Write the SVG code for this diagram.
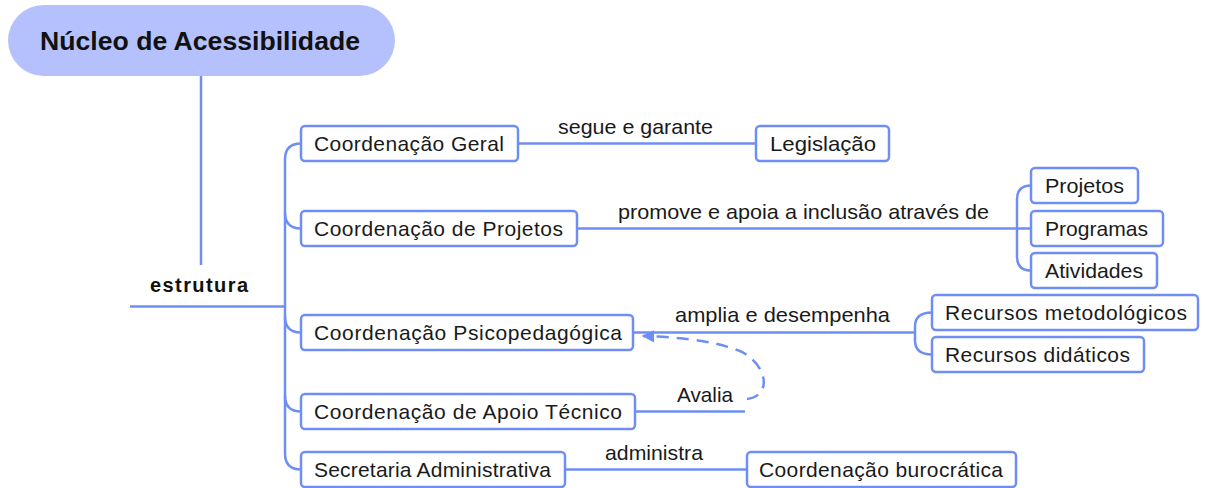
<svg xmlns="http://www.w3.org/2000/svg" width="1205" height="488" viewBox="0 0 1205 488">
<defs>
<style>
.box{fill:#ffffff;stroke:#6f8ef5;stroke-width:2.5}
.t{font-family:"Liberation Sans",Arial,sans-serif;font-size:21px;fill:#1a1a1a}
.l{font-family:"Liberation Sans",Arial,sans-serif;font-size:21px;fill:#1a1a1a}
.c{fill:none;stroke:#6f8ef5;stroke-width:2.5}
.d{fill:none;stroke:#6f8ef5;stroke-width:2.5;stroke-dasharray:12 8}
</style>
<marker id="arr" viewBox="0 0 10 10" refX="9" refY="5" markerWidth="5" markerHeight="5" orient="auto">
<path d="M0,0 L10,5 L0,10 z" fill="#6f8ef5"/>
</marker>
</defs>
<rect width="1205" height="488" fill="#ffffff"/>
<g id="connectors">
<path class="c" d="M201 76 L201 265"/>
<path class="c" d="M130 306.5 L285 306.5"/>
<path class="c" d="M301 143.5 Q285 143.5 285 159.5 L285 453.5 Q285 469.5 301 469.5"/>
<path class="c" d="M285 212.5 Q285 228.5 301 228.5"/>
<path class="c" d="M285 316.5 Q285 332.5 301 332.5"/>
<path class="c" d="M285 395.5 Q285 411.5 301 411.5"/>
<path class="c" d="M518 143.5 L756 143.5"/>
<path class="c" d="M577 228.5 L1017 228.5"/>
<path class="c" d="M1031 185.5 Q1017 185.5 1017 199.5 L1017 256.5 Q1017 270.5 1031 270.5"/>
<path class="c" d="M1017 228.5 L1031 228.5"/>
<path class="c" d="M633 332.5 L915 332.5"/>
<path class="c" d="M932 312.5 Q915 312.5 915 326.5 L915 340.5 Q915 354.5 932 354.5"/>
<path class="c" d="M635 411.5 L745 411.5"/>
<path class="c" d="M565 469.5 L747 469.5"/>
<path class="d" d="M747 399 C772 396 768 366 742 352 C715 340 675 337 643 336" marker-end="url(#arr)"/>
<text class="l" x="558" y="134" textLength="155" lengthAdjust="spacingAndGlyphs">segue e garante</text>
<text class="l" x="618" y="219" textLength="371" lengthAdjust="spacingAndGlyphs">promove e apoia a inclusão através de</text>
<text class="l" x="675" y="322" textLength="215" lengthAdjust="spacingAndGlyphs">amplia e desempenha</text>
<text class="l" x="677" y="402" textLength="56" lengthAdjust="spacingAndGlyphs">Avalia</text>
<text class="l" x="605" y="460" textLength="98" lengthAdjust="spacingAndGlyphs">administra</text>
</g>
<g id="root">
<rect x="8" y="5" width="387" height="71" rx="35.5" fill="#b4c1fc"/>
<text x="40" y="50" font-family="'Liberation Sans',Arial,sans-serif" font-size="26" font-weight="bold" fill="#111111" textLength="320" lengthAdjust="spacingAndGlyphs">Núcleo de Acessibilidade</text>
</g>
<g id="estrutura">
<text x="150" y="292" font-family="'Liberation Sans',Arial,sans-serif" font-size="20" font-weight="bold" fill="#111111" textLength="98" lengthAdjust="spacing">estrutura</text>
</g>
<g id="n-geral">
<rect class="box" x="301" y="126" width="217" height="35" rx="4"/>
<text class="t" x="314" y="151" textLength="190" lengthAdjust="spacing">Coordenação Geral</text>
</g>
<g id="n-legislacao">
<rect class="box" x="756" y="126" width="133" height="35" rx="4"/>
<text class="t" x="770" y="151" textLength="106" lengthAdjust="spacingAndGlyphs">Legislação</text>
</g>
<g id="n-projetos-coord">
<rect class="box" x="301" y="211" width="276" height="35" rx="4"/>
<text class="t" x="314" y="236" textLength="249" lengthAdjust="spacing">Coordenação de Projetos</text>
</g>
<g id="n-projetos">
<rect class="box" x="1031" y="168" width="107" height="35" rx="4"/>
<text class="t" x="1045" y="193" textLength="79" lengthAdjust="spacingAndGlyphs">Projetos</text>
</g>
<g id="n-programas">
<rect class="box" x="1031" y="211" width="132" height="35" rx="4"/>
<text class="t" x="1045" y="236" textLength="103" lengthAdjust="spacingAndGlyphs">Programas</text>
</g>
<g id="n-atividades">
<rect class="box" x="1031" y="253" width="126" height="35" rx="4"/>
<text class="t" x="1045" y="278" textLength="98" lengthAdjust="spacingAndGlyphs">Atividades</text>
</g>
<g id="n-psico">
<rect class="box" x="301" y="315" width="332" height="35" rx="4"/>
<text class="t" x="314" y="340" textLength="308" lengthAdjust="spacing">Coordenação Psicopedagógica</text>
</g>
<g id="n-rec-met">
<rect class="box" x="932" y="295" width="266" height="35" rx="4"/>
<text class="t" x="945" y="320" textLength="242" lengthAdjust="spacing">Recursos metodológicos</text>
</g>
<g id="n-rec-did">
<rect class="box" x="932" y="337" width="212" height="35" rx="4"/>
<text class="t" x="945" y="362" textLength="185" lengthAdjust="spacing">Recursos didáticos</text>
</g>
<g id="n-apoio">
<rect class="box" x="301" y="394" width="334" height="35" rx="4"/>
<text class="t" x="314" y="419" textLength="308" lengthAdjust="spacing">Coordenação de Apoio Técnico</text>
</g>
<g id="n-secretaria">
<rect class="box" x="301" y="452" width="264" height="35" rx="4"/>
<text class="t" x="314" y="477" textLength="237" lengthAdjust="spacing">Secretaria Administrativa</text>
</g>
<g id="n-burocratica">
<rect class="box" x="747" y="452" width="269" height="35" rx="4"/>
<text class="t" x="759" y="477" textLength="244" lengthAdjust="spacing">Coordenação burocrática</text>
</g>
</svg>
